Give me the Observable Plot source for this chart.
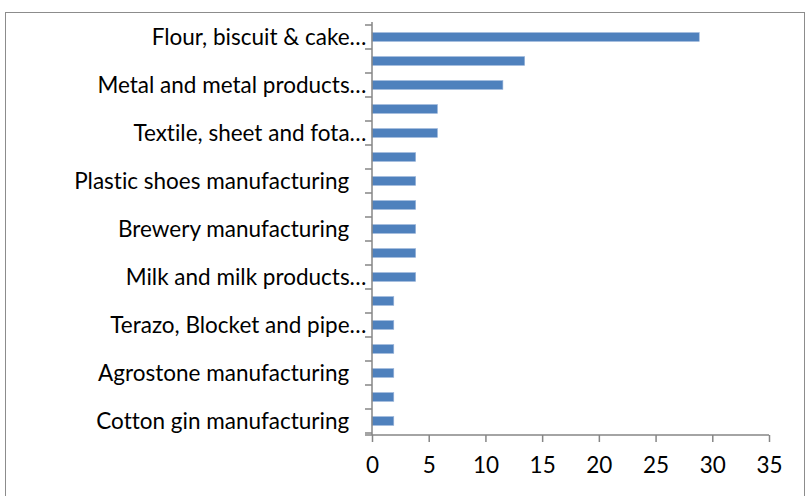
<!DOCTYPE html>
<html>
<head>
<meta charset="utf-8">
<script src="https://cdn.jsdelivr.net/npm/d3@7"></script>
<script src="https://cdn.jsdelivr.net/npm/@observablehq/plot@0.6"></script>
<style>
  html, body { margin: 0; padding: 0; background: #fff; }
  #wrap { position: relative; width: 807px; height: 496px; overflow: hidden; background: #fff; }
  #wrap svg { position: absolute; left: 0; top: 0; font-variant-ligatures: none; }
  #frame { position: absolute; left: 5px; top: 12px; width: 800px; height: 520px; border: 1.5px solid #8c8c8c; box-sizing: border-box; }
</style>
</head>
<body>
<div id="wrap"><div id="frame"></div></div>
<script>
// Category labels (Excel only shows every other label; hidden ones are blank)
const labels = [
  "Flour, biscuit & cake…", "",
  "Metal and metal products…", "",
  "Textile, sheet and fota…", "",
  "Plastic shoes manufacturing", "",
  "Brewery manufacturing", "",
  "Milk and milk products…", "",
  "Terazo, Blocket and pipe…", "",
  "Agrostone manufacturing", "",
  "Cotton gin manufacturing"
];
// Percentage values (top to bottom)
const values = [28.85, 13.46, 11.54, 5.77, 5.77, 3.85, 3.85, 3.85, 3.85, 3.85, 3.85, 1.92, 1.92, 1.92, 1.92, 1.92, 1.92];
const xTicks = [0, 5, 10, 15, 20, 25, 30, 35];

const data = values.map((v, i) => ({i, v, label: labels[i]}));
const axisGray = "#868686";

function axisLines(index, scales, vals, dims) {
  const y = scales.y, x = scales.x;
  const bw = y.bandwidth ? y.bandwidth() : 0;
  const x0 = x(0);
  const top = dims.marginTop, bottom = dims.height - dims.marginBottom;
  const g = d3.create("svg:g").attr("stroke", axisGray).attr("stroke-width", 1.5).attr("fill", "none");
  g.append("line").attr("x1", x0).attr("x2", x0).attr("y1", top).attr("y2", bottom);
  g.append("line").attr("x1", x0 - 7).attr("x2", x(35)).attr("y1", bottom).attr("y2", bottom);
  const bounds = new Set();
  data.forEach(d => { bounds.add(y(d.i)); bounds.add(y(d.i) + bw); });
  for (const b of bounds) {
    g.append("line").attr("x1", x0 - 7).attr("x2", x0).attr("y1", b).attr("y2", b);
  }
  return g.node();
}

const chart = Plot.plot({
  width: 807,
  height: 496,
  marginLeft: 372,
  marginRight: 38,
  marginTop: 22,
  marginBottom: 61,
  style: { fontFamily: "Lato, 'Open Sans', sans-serif", fontSize: "22.5px", color: "#000", background: "transparent" },
  x: { domain: [0, 35], axis: null },
  y: { domain: data.map(d => d.i), padding: 0, axis: null },
  marks: [
    Plot.barX(data, { x: "v", y: "i", fill: "#4f81bd", insetTop: 7.6, insetBottom: 7.6, stroke: "#9bb5da", strokeWidth: 0.6 }),
    axisLines,
    Plot.axisX({ ticks: xTicks, tickSize: 7, tickPadding: 15, stroke: axisGray, strokeWidth: 1.5, fill: "#000", fontSize: 22.5, label: null }),
    Plot.axisY({ ticks: data.map(d => d.i), tickSize: 0, tickPadding: 6, fill: "#000", fontSize: 22.5, label: null,
      tickFormat: i => labels[i] === "" ? "" : (labels[i].endsWith("…") ? labels[i] : labels[i] + "\u00a0\u00a0\u00a0") })
  ]
});
document.getElementById("wrap").insertBefore(chart, document.getElementById("frame"));
</script>
</body>
</html>
